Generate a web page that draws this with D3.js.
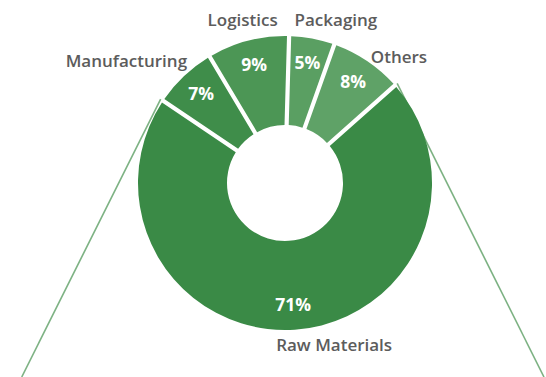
<!DOCTYPE html>
<html>
<head>
<meta charset="utf-8">
<script src="https://cdn.jsdelivr.net/npm/d3@7"></script>
<style>
  body { margin: 0; background: #fff; }
  text { font-family: "Open Sans", sans-serif; }
</style>
</head>
<body>
<svg id="chart" width="546" height="377"></svg>
<script>
// data
var categories = ["Manufacturing", "Logistics", "Packaging", "Others", "Raw Materials"];
var shares = [7, 9, 5, 8, 71];
var shareLabels = ["7%", "9%", "5%", "8%", "71%"];

var colors = d3.scaleOrdinal()
    .domain(categories)
    .range(["#3f8d4a", "#4c9655", "#5a9f62", "#5fa267", "#3a8a46"]);

// label nudges (layout only)
var nameNudge = {
    "Manufacturing": [12, -6, "end", 160],
    "Logistics": [0, 0, "middle", 168],
    "Packaging": [20, 2, "middle", 168],
    "Others": [20, 13, "middle", 168],
    "Raw Materials": [38, -6, "middle", 168]
};

var svg = d3.select("#chart");
var cx = 285, cy = 183;
var outerR = 147, innerR = 58;

var data = categories.map(function(c, i) {
    return {name: c, value: shares[i], label: shareLabels[i]};
});

var startDeg = -56;
var pie = d3.pie()
    .sort(null)
    .value(function(d) { return d.value; })
    .startAngle(startDeg * Math.PI / 180)
    .endAngle((startDeg + 360) * Math.PI / 180);

var arcs = pie(data);

var arc = d3.arc()
    .innerRadius(innerR)
    .outerRadius(outerR)
    .padAngle(0.03)
    .padRadius(140);

var g = svg.append("g").attr("transform", "translate(" + cx + "," + cy + ")");

// guide lines from the raw materials slice edges
var raw = arcs[arcs.length - 1];
var edges = [raw.startAngle, raw.endAngle];
edges.forEach(function(a, i) {
    var x0 = Math.sin(a) * (outerR + 3);
    var y0 = -Math.cos(a) * (outerR + 3);
    var dir = i === 0 ? 0.5 : -0.5;
    var y1 = 377 - cy;
    var x1 = x0 + (y1 - y0) * dir;
    g.append("line")
        .attr("x1", x0).attr("y1", y0)
        .attr("x2", x1).attr("y2", y1)
        .attr("stroke", "#7db283")
        .attr("stroke-width", 1.6);
});

g.selectAll(".slice")
    .data(arcs)
    .enter().append("path")
    .attr("class", "slice")
    .attr("d", arc)
    .attr("fill", function(d) { return colors(d.data.name); });

// percentage labels
var labelArc = d3.arc().innerRadius(122).outerRadius(122);
g.selectAll(".pct")
    .data(arcs)
    .enter().append("text")
    .attr("class", "pct")
    .attr("transform", function(d) {
        var p = labelArc.centroid(d);
        return "translate(" + p[0] + "," + (p[1] + 6) + ")";
    })
    .attr("text-anchor", "middle")
    .attr("fill", "#fff")
    .attr("font-weight", "bold")
    .attr("font-size", 17.5)
    .text(function(d) { return d.data.label; });

// category labels
g.selectAll(".name")
    .data(arcs)
    .enter().append("text")
    .attr("class", "name")
    .attr("transform", function(d) {
        var n = nameNudge[d.data.name];
        var a = (d.startAngle + d.endAngle) / 2;
        var x = Math.sin(a) * n[3] + n[0];
        var y = -Math.cos(a) * n[3] + n[1] + 6;
        return "translate(" + x + "," + y + ")";
    })
    .attr("text-anchor", function(d) { return nameNudge[d.data.name][2]; })
    .attr("fill", "#5c5c5c")
    .attr("font-weight", 600)
    .attr("font-size", 17)
    .text(function(d) { return d.data.name; });
</script>
</body>
</html>
